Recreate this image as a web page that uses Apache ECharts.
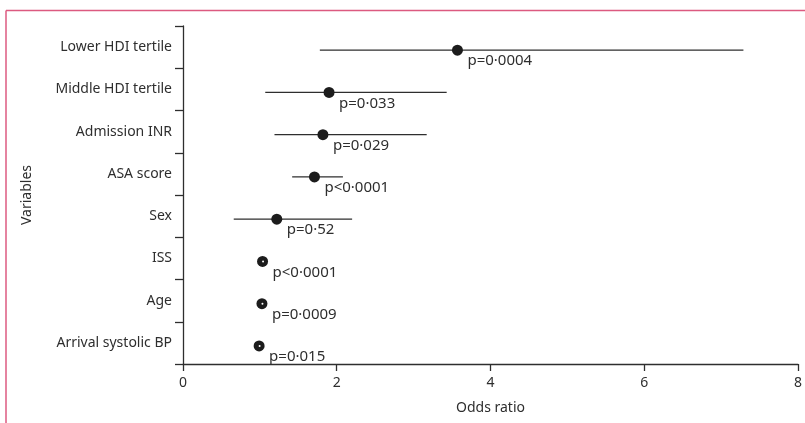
<!DOCTYPE html>
<html>
<head>
<meta charset="utf-8">
<script src="https://cdn.jsdelivr.net/npm/echarts@6/dist/echarts.min.js"></script>
<style>
html,body{margin:0;padding:0;background:#fff;}
#chart{width:805px;height:423px;}
</style>
</head>
<body>
<div id="chart"></div>
<script>
var categories = ['Lower HDI tertile','Middle HDI tertile','Admission INR','ASA score','Sex','ISS','Age','Arrival systolic BP'];
var oddsRatio = [3.57, 1.90, 1.82, 1.71, 1.22, 1.035, 1.027, 0.99];
var ciLow = [1.78, 1.07, 1.19, 1.42, 0.66, 1.02, 1.02, 0.98];
var ciHigh = [7.29, 3.43, 3.17, 2.08, 2.20, 1.05, 1.04, 1.00];
var pLabels = ['p=0·0004','p=0·033','p=0·029','p<0·0001','p=0·52','p<0·0001','p=0·0009','p=0·015'];
var xTicks = [0, 2, 4, 6, 8];

var FONT = 'Noto Sans';
var INK = '#2e2e2e';

var data = categories.map(function (c, i) {
  return [oddsRatio[i], ciLow[i], ciHigh[i], i];
});

var chart = echarts.init(document.getElementById('chart'));
chart.setOption({
  animation: false,
  backgroundColor: '#fff',
  grid: { left: 183, right: 3, top: 26, bottom: 59, containLabel: false },
  xAxis: {
    type: 'value',
    min: xTicks[0], max: xTicks[xTicks.length - 1], interval: 2,
    name: 'Odds ratio', nameLocation: 'middle', nameGap: 37,
    nameTextStyle: { fontFamily: FONT, fontSize: 14, color: INK },
    axisLine: { show: true, lineStyle: { color: INK, width: 1.3 } },
    axisTick: { show: true, length: 7, lineStyle: { color: INK, width: 1.3 } },
    axisLabel: { fontFamily: FONT, fontSize: 14, color: INK, margin: 12,
      formatter: function (v) { return xTicks.indexOf(v) >= 0 ? String(v) : ''; } },
    splitLine: { show: false }
  },
  yAxis: {
    type: 'category', data: categories, inverse: true,
    name: 'Variables', nameLocation: 'middle', nameGap: 149, nameRotate: 90,
    nameTextStyle: { fontFamily: FONT, fontSize: 14, color: INK },
    axisLine: { show: true, lineStyle: { color: INK, width: 1.3 } },
    axisTick: { show: true, length: 8, lineStyle: { color: INK, width: 1.3 } },
    axisLabel: { fontFamily: FONT, fontSize: 14, color: INK, margin: 11 },
    splitLine: { show: false }
  },
  series: [{
    type: 'custom',
    encode: { x: [0, 1, 2], y: 3 },
    data: data,
    renderItem: function (params, api) {
      var idx = api.value(3);
      var c = api.coord([api.value(0), idx]);
      var lo = api.coord([api.value(1), idx]);
      var hi = api.coord([api.value(2), idx]);
      var dy = 3, r = 5.5;
      var y = c[1] + dy;
      var children = [
        { type: 'line', shape: { x1: lo[0], y1: y, x2: hi[0], y2: y },
          style: { stroke: INK, lineWidth: 1.4 } },
        { type: 'circle', shape: { cx: c[0], cy: y, r: r },
          style: { fill: '#1c1c1c' } },
        { type: 'text', x: c[0] + 10, y: y + 11,
          style: { text: pLabels[params.dataIndex], fontFamily: FONT, fontSize: 15,
                   fill: INK, align: 'left', verticalAlign: 'middle' } }
      ];
      if (hi[0] - lo[0] < 2 * r) {
        children.splice(2, 0, { type: 'circle', shape: { cx: c[0] + 0.5, cy: y, r: 1 },
          style: { fill: '#ffffff' } });
      }
      return { type: 'group', children: children };
    }
  }],
  graphic: [
    { type: 'line', shape: { x1: 6, y1: 10.5, x2: 805, y2: 10.5 },
      style: { stroke: '#dc5a80', lineWidth: 1.5 } },
    { type: 'line', shape: { x1: 6, y1: 10.5, x2: 6, y2: 423 },
      style: { stroke: '#dc5a80', lineWidth: 1.5 } }
  ]
});
</script>
</body>
</html>
